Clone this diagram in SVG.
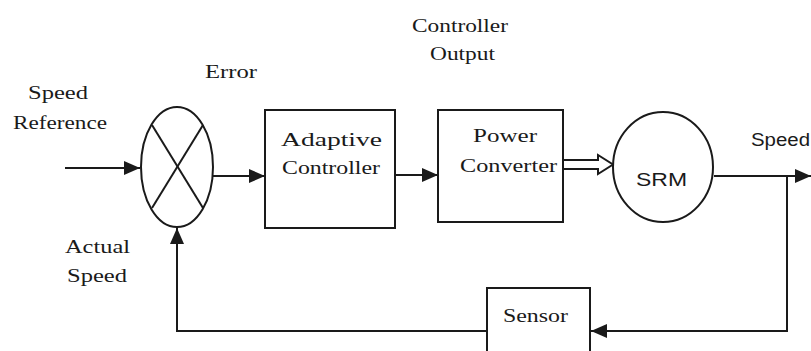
<svg xmlns="http://www.w3.org/2000/svg" width="811" height="351" viewBox="0 0 811 351">
<defs>
<marker id="ah" markerUnits="userSpaceOnUse" markerWidth="18" markerHeight="14" refX="16" refY="7" orient="auto">
<path d="M0,0 L16,7 L0,14 Z" fill="#1a1a1a"/>
</marker>
<style>
.ln{stroke:#1a1a1a;stroke-width:2;fill:none}
.bx{stroke:#1a1a1a;stroke-width:2;fill:#fff}
.t{font-family:"Liberation Serif","Times New Roman",serif;font-size:19px;fill:#1a1a1a}
.s{font-family:"Liberation Sans",Arial,sans-serif;font-size:18px;fill:#1a1a1a}
</style>
</defs>
<rect width="811" height="351" fill="#fff"/>
<g id="connectors">
<line class="ln" x1="65" y1="168" x2="140" y2="168" marker-end="url(#ah)"/>
<line class="ln" x1="213" y1="176" x2="265" y2="176" marker-end="url(#ah)"/>
<line class="ln" x1="395" y1="175" x2="438" y2="175" marker-end="url(#ah)"/>
<path class="bx" d="M563,160 H598 V155 L613,164.5 L598,174 V169 H563"/>
<line class="ln" x1="714" y1="176" x2="811" y2="176" marker-end="url(#ah)"/>
<polyline class="ln" points="787,176 787,331 591,331" marker-end="url(#ah)"/>
<polyline class="ln" points="487,331 177,331 177,228" marker-end="url(#ah)"/>
</g>
<g id="sum">
<ellipse class="bx" cx="177" cy="167" rx="36" ry="60"/>
<line class="ln" x1="152" y1="125" x2="203" y2="208"/>
<line class="ln" x1="203" y1="125" x2="152" y2="208"/>
</g>
<g id="adaptive">
<rect class="bx" x="265" y="110" width="130" height="118"/>
<text class="t" x="281" y="146" font-size="22" textLength="101" lengthAdjust="spacingAndGlyphs">Adaptive</text>
<text class="t" x="282" y="174" textLength="98" lengthAdjust="spacingAndGlyphs">Controller</text>
</g>
<g id="power">
<rect class="bx" x="438" y="110" width="125" height="112"/>
<text class="t" x="473" y="142" textLength="64" lengthAdjust="spacingAndGlyphs">Power</text>
<text class="t" x="460" y="172" textLength="97" lengthAdjust="spacingAndGlyphs">Converter</text>
</g>
<g id="srm">
<ellipse class="bx" cx="663" cy="167" rx="50" ry="55"/>
<text class="s" x="636" y="186" textLength="51" lengthAdjust="spacingAndGlyphs">SRM</text>
</g>
<g id="sensor">
<rect class="bx" x="487" y="288" width="103" height="70"/>
<text class="t" x="503" y="322" textLength="65" lengthAdjust="spacingAndGlyphs">Sensor</text>
</g>
<g id="labels">
<text class="t" x="28" y="99" textLength="60" lengthAdjust="spacingAndGlyphs">Speed</text>
<text class="t" x="13" y="129" textLength="94" lengthAdjust="spacingAndGlyphs">Reference</text>
<text class="t" x="205" y="78" textLength="52" lengthAdjust="spacingAndGlyphs">Error</text>
<text class="t" x="412" y="32" textLength="96" lengthAdjust="spacingAndGlyphs">Controller</text>
<text class="t" x="430" y="60" textLength="65" lengthAdjust="spacingAndGlyphs">Output</text>
<text class="t" x="65" y="253" textLength="65" lengthAdjust="spacingAndGlyphs">Actual</text>
<text class="t" x="67" y="282" textLength="60" lengthAdjust="spacingAndGlyphs">Speed</text>
<text class="s" x="751" y="146" textLength="59" lengthAdjust="spacingAndGlyphs">Speed</text>
</g>
</svg>
